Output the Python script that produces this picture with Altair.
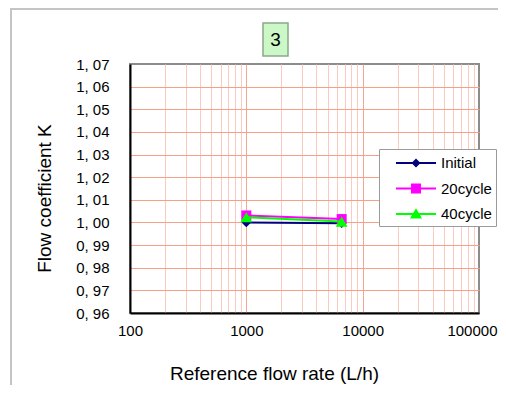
import altair as alt
import pandas as pd

# ---- data ----
series_names = ["Initial", "20cycle", "40cycle"]
flow_rate = [1000, 6600]
k_initial = [1.0000, 0.9997]
k_20cycle = [1.0031, 1.0015]
k_40cycle = [1.0023, 1.0004]
series_colors = ["#000080", "#ff00ff", "#00ff00"]
series_shapes = ["diamond", "square", "triangle-up"]
series_sizes = [90, 100, 140]
x_ticks = [100, 200, 300, 400, 500, 600, 700, 800, 900,
           1000, 2000, 3000, 4000, 5000, 6000, 7000, 8000, 9000,
           10000, 20000, 30000, 40000, 50000, 60000, 70000, 80000, 90000,
           100000]
x_major = [100, 1000, 10000, 100000]
y_ticks = [0.96, 0.97, 0.98, 0.99, 1.00, 1.01, 1.02, 1.03, 1.04, 1.05, 1.06, 1.07]
title_label = ["3"]
legend_paths = [
    "M-2,-0.1H2V0.1H-2Z M0,-0.45L0.45,0L0,0.45L-0.45,0Z",
    "M-2,-0.1H2V0.1H-2Z M-0.5,-0.5H0.5V0.5H-0.5Z",
    "M-2,-0.1H2V0.1H-2Z M0,-0.58L0.6,0.45L-0.6,0.45Z",
]

rows = []
for name, vals in zip(series_names, [k_initial, k_20cycle, k_40cycle]):
    for f, v in zip(flow_rate, vals):
        rows.append({"series": name, "flow": f, "k": v})
df = pd.DataFrame(rows)

FONT = "Liberation Sans"
W, H = 349, 249

major_test = "indexof(" + str(x_major) + ", datum.value) >= 0"
edge_x = "datum.value == 100 || datum.value == 100000"
edge_y = "abs(datum.value - 0.96) < 0.001 || abs(datum.value - 1.07) < 0.001"

x_enc = alt.X(
    "flow:Q",
    scale=alt.Scale(type="log", domain=[100, 100000], nice=False),
    axis=alt.Axis(
        values=x_ticks,
        labelExpr=major_test + " ? format(datum.value, 'd') : ''",
        title="Reference flow rate (L/h)",
        titleFont=FONT, titleFontSize=19, titleFontWeight="normal", titleColor="black",
        titleX=144, titleY=60, titleAlign="center", titleBaseline="middle",
        ticks=False, domainColor="black", domainWidth=2,
        labelFont=FONT, labelFontSize=15, labelColor="black", labelPadding=10,
        labelOverlap=False, labelFlush=False,
        labelAlign={"condition": {"test": "datum.value == 100000", "value": "right"}, "value": "center"},
        labelOffset={"condition": {"test": "datum.value == 100000", "value": 18}, "value": 0},
        grid=True, gridWidth=1,
        gridColor={"condition": {"test": major_test, "value": "#f5a593"}, "value": "#fccabf"},
        gridOpacity={"condition": {"test": edge_x, "value": 0}, "value": 1},
    ),
)
y_enc = alt.Y(
    "k:Q",
    scale=alt.Scale(domain=[0.96, 1.07], nice=False, zero=False),
    axis=alt.Axis(
        values=y_ticks,
        labelExpr="replace(format(datum.value, '.2f'), '.', ', ')",
        title="Flow coefficient K",
        titleFont=FONT, titleFontSize=19, titleFontWeight="normal", titleColor="black",
        titleX=-86, titleY=134, titleAlign="center", titleBaseline="middle", titleAngle=-90,
        ticks=False, domainColor="black", domainWidth=2,
        labelFont=FONT, labelFontSize=15, labelColor="black", labelPadding=21,
        labelOverlap=False,
        grid=True, gridWidth=1, gridColor="#f6a087",
        gridOpacity={"condition": {"test": edge_y, "value": 0}, "value": 1},
    ),
)

base = alt.Chart(df)
layers = []
for name, col, shp, sz in zip(series_names, series_colors, series_shapes, series_sizes):
    sub = base.transform_filter(alt.datum.series == name)
    layers.append(sub.mark_line(strokeWidth=2, color=col).encode(x=x_enc, y=y_enc))
    layers.append(
        sub.mark_point(filled=True, opacity=1, color=col, shape=shp, size=sz)
        .encode(x=x_enc, y=y_enc)
    )

legend_layer = base.transform_filter("false").mark_point(filled=True, opacity=1, size=400).encode(
    color=alt.Color("series:N", scale=alt.Scale(domain=series_names, range=series_colors),
                    legend=alt.Legend(
                        orient="none", legendX=249, legendY=85, title=None,
                        fillColor="white", strokeColor="#9a9a9a",
                        padding=4, rowPadding=7.5, symbolOffset=23, labelOffset=15,
                        symbolSize=400, symbolStrokeWidth=0,
                        labelFont=FONT, labelFontSize=15, labelColor="black",
                        labelExpr="datum.label == 'Initial' ? '\u00a0\u00a0Initial' : datum.label",
                    )),
    shape=alt.Shape("series:N", scale=alt.Scale(domain=series_names, range=legend_paths)),
)

title_df = pd.DataFrame({"label": title_label})
title_box = alt.Chart(title_df).mark_rect(fill="#ccf8c8", stroke="#8aa88a", strokeWidth=1.5).encode(
    x=alt.value(133), x2=alt.value(158), y=alt.value(-41), y2=alt.value(-8)
)
title_text = alt.Chart(title_df).mark_text(font=FONT, fontSize=19, color="black").encode(
    text="label:N", x=alt.value(145.5), y=alt.value(-24)
)
frame_v = alt.Chart(title_df).mark_rule(color="#c4c4c4", strokeWidth=2).encode(
    x=alt.value(-119), y=alt.value(-56), y2=alt.value(330)
)
frame_h = alt.Chart(title_df).mark_rule(color="#c4c4c4", strokeWidth=2).encode(
    x=alt.value(-119), x2=alt.value(380), y=alt.value(-55)
)

chart = alt.layer(
    *layers, legend_layer, title_box, title_text, frame_v, frame_h
).resolve_scale(
    color="independent", shape="independent"
).properties(
    width=W, height=H,
    autosize=alt.AutoSizeParams(type="none"),
    padding={"left": 122, "top": 56, "right": 19, "bottom": 72},
).configure_view(
    stroke="#8c8c8c", strokeWidth=2
)

chart.save("out.html", embed_options={"renderer": "svg", "actions": False})
